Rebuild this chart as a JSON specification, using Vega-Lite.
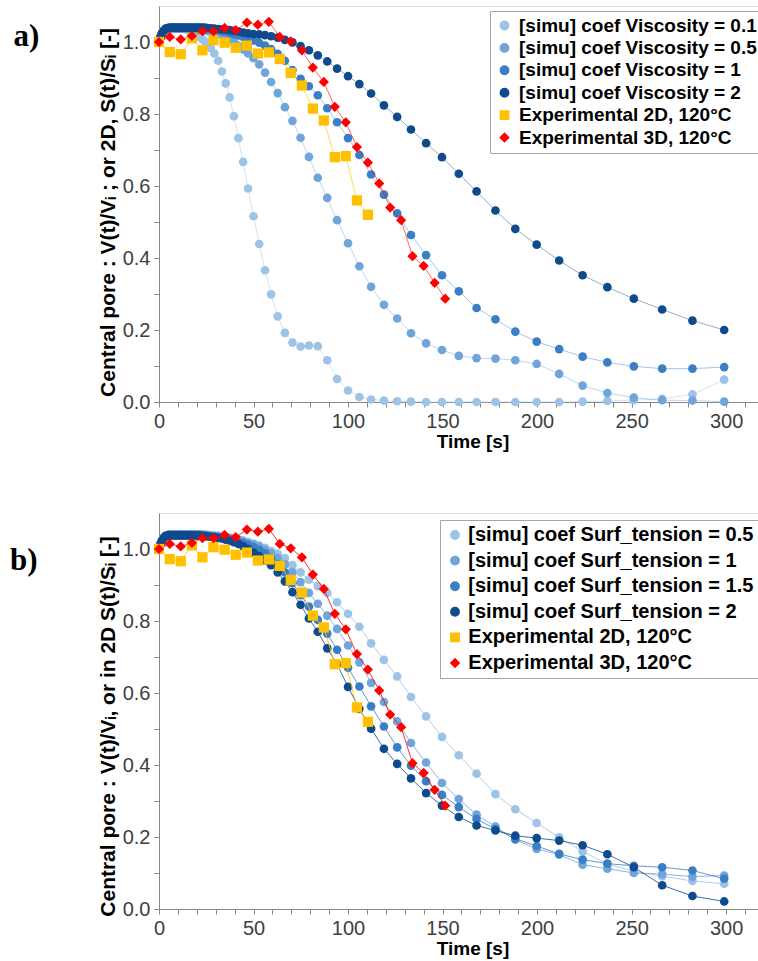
{
  "$schema": "https://vega.github.io/schema/vega-lite/v6.json",
  "background": "white",
  "padding": {"left": 9, "top": 5, "right": 0, "bottom": 0},
  "autosize": {"type": "pad"},
  "spacing": 60,
  "config": {
    "view": {"stroke": "#d9d9d9"},
    "axis": {"labelFont": "Liberation Sans", "labelFontSize": 20, "labelColor": "#404040", "titleFont": "Liberation Sans", "titleFontSize": 21, "titleFontWeight": "bold", "titleColor": "black", "domainColor": "#868686", "tickColor": "#868686", "tickSize": 5, "grid": false, "labelOverlap": false, "labelFlush": false},
    "legend": {"labelFont": "Liberation Sans", "labelFontWeight": "bold", "labelColor": "black", "strokeColor": "#a6a6a6", "fillColor": "white", "padding": 5, "symbolSize": 70, "symbolOpacity": 1, "labelLimit": 400}
  },
  "resolve": {"scale": {"color": "independent", "shape": "independent", "x": "independent", "y": "independent"}},
  "datasets": {
    "simu": [
      {"t": 0, "v01": 1.0, "v05": 1.0, "v1": 1.0, "v2": 1.0, "s05": 1.0, "s1": 1.0, "s15": 1.0, "s2": 1.0},
      {"t": 0.7, "v01": 1.012, "v05": 1.012, "v1": 1.013, "v2": 1.013, "s05": 1.013, "s1": 1.013, "s15": 1.013, "s2": 1.012},
      {"t": 1.5, "v01": 1.022, "v05": 1.022, "v1": 1.023, "v2": 1.024, "s05": 1.024, "s1": 1.024, "s15": 1.023, "s2": 1.022},
      {"t": 2.5, "v01": 1.03, "v05": 1.03, "v1": 1.031, "v2": 1.032, "s05": 1.032, "s1": 1.032, "s15": 1.031, "s2": 1.03},
      {"t": 3.5, "v01": 1.034, "v05": 1.035, "v1": 1.036, "v2": 1.037, "s05": 1.037, "s1": 1.037, "s15": 1.036, "s2": 1.035},
      {"t": 4.5, "v01": 1.036, "v05": 1.037, "v1": 1.038, "v2": 1.039, "s05": 1.039, "s1": 1.039, "s15": 1.038, "s2": 1.037},
      {"t": 5.5, "v01": 1.037, "v05": 1.038, "v1": 1.039, "v2": 1.04, "s05": 1.04, "s1": 1.04, "s15": 1.039, "s2": 1.038},
      {"t": 6.5, "v01": 1.037, "v05": 1.038, "v1": 1.039, "v2": 1.04, "s05": 1.04, "s1": 1.04, "s15": 1.039, "s2": 1.038},
      {"t": 7.5, "v01": 1.037, "v05": 1.038, "v1": 1.039, "v2": 1.04, "s05": 1.04, "s1": 1.04, "s15": 1.039, "s2": 1.038},
      {"t": 8.5, "v01": 1.037, "v05": 1.038, "v1": 1.039, "v2": 1.04, "s05": 1.04, "s1": 1.04, "s15": 1.039, "s2": 1.038},
      {"t": 9.5, "v01": 1.037, "v05": 1.038, "v1": 1.039, "v2": 1.04, "s05": 1.04, "s1": 1.04, "s15": 1.039, "s2": 1.038},
      {"t": 10.5, "v01": 1.037, "v05": 1.038, "v1": 1.039, "v2": 1.04, "s05": 1.04, "s1": 1.04, "s15": 1.039, "s2": 1.038},
      {"t": 11.5, "v01": 1.037, "v05": 1.038, "v1": 1.039, "v2": 1.04, "s05": 1.04, "s1": 1.04, "s15": 1.039, "s2": 1.038},
      {"t": 12.5, "v01": 1.037, "v05": 1.038, "v1": 1.039, "v2": 1.04, "s05": 1.04, "s1": 1.04, "s15": 1.039, "s2": 1.038},
      {"t": 13.6, "v01": 1.036, "v05": 1.038, "v1": 1.039, "v2": 1.04, "s05": 1.04, "s1": 1.04, "s15": 1.039, "s2": 1.038},
      {"t": 14.7, "v01": 1.035, "v05": 1.038, "v1": 1.039, "v2": 1.04, "s05": 1.04, "s1": 1.04, "s15": 1.039, "s2": 1.038},
      {"t": 15.8, "v01": 1.033, "v05": 1.038, "v1": 1.039, "v2": 1.04, "s05": 1.04, "s1": 1.04, "s15": 1.039, "s2": 1.038},
      {"t": 16.9, "v01": 1.03, "v05": 1.038, "v1": 1.039, "v2": 1.04, "s05": 1.04, "s1": 1.04, "s15": 1.039, "s2": 1.038},
      {"t": 18, "v01": 1.027, "v05": 1.038, "v1": 1.039, "v2": 1.04, "s05": 1.04, "s1": 1.04, "s15": 1.039, "s2": 1.038},
      {"t": 19.2, "v01": 1.023, "v05": 1.037, "v1": 1.039, "v2": 1.04, "s05": 1.04, "s1": 1.04, "s15": 1.039, "s2": 1.038},
      {"t": 20.4, "v01": 1.019, "v05": 1.036, "v1": 1.039, "v2": 1.04, "s05": 1.04, "s1": 1.04, "s15": 1.039, "s2": 1.037},
      {"t": 21.6, "v01": 1.014, "v05": 1.035, "v1": 1.039, "v2": 1.04, "s05": 1.04, "s1": 1.04, "s15": 1.039, "s2": 1.037},
      {"t": 22.9, "v01": 1.008, "v05": 1.034, "v1": 1.039, "v2": 1.04, "s05": 1.04, "s1": 1.04, "s15": 1.038, "s2": 1.036},
      {"t": 24.2, "v01": 1.002, "v05": 1.033, "v1": 1.038, "v2": 1.04, "s05": 1.04, "s1": 1.039, "s15": 1.037, "s2": 1.036},
      {"t": 25.5, "v01": 0.995, "v05": 1.031, "v1": 1.037, "v2": 1.039, "s05": 1.04, "s1": 1.038, "s15": 1.036, "s2": 1.035},
      {"t": 27.4, "v01": 0.983, "v05": 1.029, "v1": 1.036, "v2": 1.038, "s05": 1.039, "s1": 1.037, "s15": 1.035, "s2": 1.034},
      {"t": 29.3, "v01": 0.968, "v05": 1.026, "v1": 1.034, "v2": 1.037, "s05": 1.038, "s1": 1.036, "s15": 1.034, "s2": 1.033},
      {"t": 31.3, "v01": 0.948, "v05": 1.023, "v1": 1.032, "v2": 1.036, "s05": 1.037, "s1": 1.035, "s15": 1.032, "s2": 1.031},
      {"t": 33.3, "v01": 0.918, "v05": 1.019, "v1": 1.03, "v2": 1.035, "s05": 1.036, "s1": 1.033, "s15": 1.03, "s2": 1.029},
      {"t": 35.3, "v01": 0.885, "v05": 1.014, "v1": 1.028, "v2": 1.034, "s05": 1.034, "s1": 1.031, "s15": 1.028, "s2": 1.026},
      {"t": 37.4, "v01": 0.846, "v05": 1.008, "v1": 1.025, "v2": 1.033, "s05": 1.032, "s1": 1.029, "s15": 1.026, "s2": 1.023},
      {"t": 39.6, "v01": 0.794, "v05": 1.0, "v1": 1.022, "v2": 1.031, "s05": 1.03, "s1": 1.026, "s15": 1.024, "s2": 1.019},
      {"t": 42, "v01": 0.733, "v05": 0.99, "v1": 1.018, "v2": 1.029, "s05": 1.027, "s1": 1.023, "s15": 1.02, "s2": 1.014},
      {"t": 44.5, "v01": 0.667, "v05": 0.979, "v1": 1.014, "v2": 1.026, "s05": 1.024, "s1": 1.02, "s15": 1.017, "s2": 1.008},
      {"t": 47.1, "v01": 0.593, "v05": 0.968, "v1": 1.009, "v2": 1.024, "s05": 1.02, "s1": 1.016, "s15": 1.012, "s2": 1.0},
      {"t": 50, "v01": 0.516, "v05": 0.955, "v1": 1.004, "v2": 1.022, "s05": 1.015, "s1": 1.012, "s15": 1.005, "s2": 0.99},
      {"t": 53, "v01": 0.439, "v05": 0.938, "v1": 0.998, "v2": 1.021, "s05": 1.01, "s1": 1.006, "s15": 0.998, "s2": 0.98},
      {"t": 56.1, "v01": 0.366, "v05": 0.915, "v1": 0.99, "v2": 1.019, "s05": 1.003, "s1": 0.998, "s15": 0.988, "s2": 0.968},
      {"t": 59.3, "v01": 0.299, "v05": 0.889, "v1": 0.98, "v2": 1.016, "s05": 0.995, "s1": 0.988, "s15": 0.975, "s2": 0.955},
      {"t": 62.8, "v01": 0.238, "v05": 0.858, "v1": 0.967, "v2": 1.012, "s05": 0.987, "s1": 0.975, "s15": 0.958, "s2": 0.935},
      {"t": 66.6, "v01": 0.192, "v05": 0.819, "v1": 0.948, "v2": 1.006, "s05": 0.975, "s1": 0.958, "s15": 0.935, "s2": 0.91},
      {"t": 70.6, "v01": 0.165, "v05": 0.781, "v1": 0.922, "v2": 0.999, "s05": 0.955, "s1": 0.935, "s15": 0.905, "s2": 0.88},
      {"t": 74.9, "v01": 0.154, "v05": 0.734, "v1": 0.898, "v2": 0.989, "s05": 0.935, "s1": 0.908, "s15": 0.872, "s2": 0.845},
      {"t": 79.3, "v01": 0.157, "v05": 0.681, "v1": 0.877, "v2": 0.977, "s05": 0.915, "s1": 0.878, "s15": 0.84, "s2": 0.807},
      {"t": 84, "v01": 0.155, "v05": 0.623, "v1": 0.852, "v2": 0.963, "s05": 0.897, "s1": 0.848, "s15": 0.803, "s2": 0.77},
      {"t": 89, "v01": 0.116, "v05": 0.567, "v1": 0.816, "v2": 0.946, "s05": 0.878, "s1": 0.815, "s15": 0.765, "s2": 0.724},
      {"t": 94.2, "v01": 0.064, "v05": 0.505, "v1": 0.777, "v2": 0.926, "s05": 0.852, "s1": 0.778, "s15": 0.72, "s2": 0.68},
      {"t": 100, "v01": 0.032, "v05": 0.441, "v1": 0.733, "v2": 0.905, "s05": 0.82, "s1": 0.732, "s15": 0.67, "s2": 0.617},
      {"t": 106, "v01": 0.014, "v05": 0.377, "v1": 0.686, "v2": 0.883, "s05": 0.784, "s1": 0.685, "s15": 0.618, "s2": 0.556},
      {"t": 112.2, "v01": 0.007, "v05": 0.32, "v1": 0.632, "v2": 0.857, "s05": 0.738, "s1": 0.628, "s15": 0.563, "s2": 0.501},
      {"t": 119, "v01": 0.004, "v05": 0.27, "v1": 0.576, "v2": 0.824, "s05": 0.692, "s1": 0.575, "s15": 0.507, "s2": 0.445},
      {"t": 126, "v01": 0.002, "v05": 0.232, "v1": 0.524, "v2": 0.792, "s05": 0.646, "s1": 0.521, "s15": 0.449, "s2": 0.403},
      {"t": 133.3, "v01": 0.001, "v05": 0.191, "v1": 0.464, "v2": 0.757, "s05": 0.589, "s1": 0.461, "s15": 0.398, "s2": 0.363},
      {"t": 141.3, "v01": 0, "v05": 0.163, "v1": 0.408, "v2": 0.719, "s05": 0.535, "s1": 0.407, "s15": 0.355, "s2": 0.322},
      {"t": 149.7, "v01": 0, "v05": 0.1445, "v1": 0.352, "v2": 0.68, "s05": 0.478, "s1": 0.35, "s15": 0.317, "s2": 0.287},
      {"t": 158.6, "v01": 0, "v05": 0.128, "v1": 0.3075, "v2": 0.634, "s05": 0.427, "s1": 0.3056, "s15": 0.283, "s2": 0.2556},
      {"t": 168, "v01": 0, "v05": 0.122, "v1": 0.261, "v2": 0.585, "s05": 0.376, "s1": 0.262, "s15": 0.25, "s2": 0.232},
      {"t": 178, "v01": 0, "v05": 0.1205, "v1": 0.2297, "v2": 0.532, "s05": 0.319, "s1": 0.229, "s15": 0.222, "s2": 0.218},
      {"t": 188.5, "v01": 0, "v05": 0.116, "v1": 0.1955, "v2": 0.481, "s05": 0.277, "s1": 0.1925, "s15": 0.195, "s2": 0.2036},
      {"t": 199.8, "v01": 0, "v05": 0.1057, "v1": 0.1677, "v2": 0.437, "s05": 0.239, "s1": 0.1667, "s15": 0.175, "s2": 0.197},
      {"t": 211.7, "v01": 0, "v05": 0.078, "v1": 0.147, "v2": 0.393, "s05": 0.199, "s1": 0.151, "s15": 0.153, "s2": 0.19},
      {"t": 224.1, "v01": 0.001, "v05": 0.0455, "v1": 0.126, "v2": 0.352, "s05": 0.16, "s1": 0.123, "s15": 0.137, "s2": 0.177},
      {"t": 237.2, "v01": 0.003, "v05": 0.025, "v1": 0.11, "v2": 0.319, "s05": 0.125, "s1": 0.112, "s15": 0.126, "s2": 0.152},
      {"t": 251.2, "v01": 0.005, "v05": 0.012, "v1": 0.099, "v2": 0.287, "s05": 0.105, "s1": 0.1, "s15": 0.12, "s2": 0.116},
      {"t": 266.2, "v01": 0.009, "v05": 0.005, "v1": 0.0927, "v2": 0.257, "s05": 0.091, "s1": 0.097, "s15": 0.116, "s2": 0.066},
      {"t": 282.2, "v01": 0.021, "v05": 0.004, "v1": 0.0927, "v2": 0.226, "s05": 0.078, "s1": 0.09, "s15": 0.107, "s2": 0.036},
      {"t": 299, "v01": 0.062, "v05": 0.001, "v1": 0.097, "v2": 0.2, "s05": 0.07, "s1": 0.093, "s15": 0.084, "s2": 0.021}
    ],
    "exp": [
      {"t": 0, "e2": 1.0, "e3": 1.0},
      {"t": 5.7, "e2": 0.972, "e3": 1.014},
      {"t": 11.5, "e2": 0.966, "e3": 1.007},
      {"t": 17.4, "e2": 1.01, "e3": 1.017},
      {"t": 23, "e2": 0.977, "e3": 1.03},
      {"t": 28.8, "e2": 1.005, "e3": 1.03},
      {"t": 34.7, "e2": 0.998, "e3": 1.039},
      {"t": 40.6, "e2": 0.984, "e3": 1.033},
      {"t": 46.5, "e2": 0.99, "e3": 1.054},
      {"t": 52.3, "e2": 0.968, "e3": 1.048},
      {"t": 58.1, "e2": 0.971, "e3": 1.056},
      {"t": 63.9, "e2": 0.953, "e3": 1.014},
      {"t": 69.7, "e2": 0.914, "e3": 1.002},
      {"t": 75.6, "e2": 0.879, "e3": 0.977},
      {"t": 81.4, "e2": 0.815, "e3": 0.929},
      {"t": 87.2, "e2": 0.782, "e3": 0.889},
      {"t": 93, "e2": 0.68, "e3": 0.82},
      {"t": 98.8, "e2": 0.683, "e3": 0.777},
      {"t": 104.7, "e2": 0.56, "e3": 0.708},
      {"t": 110.5, "e2": 0.52, "e3": 0.665},
      {"t": 116.5, "e3": 0.607},
      {"t": 122.3, "e3": 0.54},
      {"t": 128.1, "e3": 0.505},
      {"t": 134.1, "e3": 0.405},
      {"t": 140, "e3": 0.378},
      {"t": 145.8, "e3": 0.331},
      {"t": 151.4, "e3": 0.287}
    ]
  },
  "vconcat": [
    {
      "width": 603,
      "height": 396,
      "title": {"text": "a)", "orient": "left", "anchor": "end", "angle": 0, "align": "right", "baseline": "top", "font": "Liberation Serif", "fontSize": 31, "fontWeight": "bold", "color": "black", "offset": 32, "dy": 16},
      "encoding": {
        "x": {"field": "t", "type": "quantitative", "scale": {"domain": [0, 319], "nice": false}, "axis": {"title": "Time [s]", "values": [0,10,20,30,40,50,60,70,80,90,100,110,120,130,140,150,160,170,180,190,200,210,220,230,240,250,260,270,280,290,300,310], "labelExpr": "datum.value % 50 == 0 ? datum.label : ''", "labelPadding": 4, "titleX": 313.5, "titleY": 30, "titleFontSize": 19, "titleBaseline": "top", "titleAlign": "center", "titleAnchor": null}},
        "y": {"field": "v", "type": "quantitative", "scale": {"domain": [0, 1.1], "nice": false}, "axis": {"title": "Central pore : V(t)/Vᵢ ;   or 2D, S(t)/Sᵢ   [-]", "values": [0,0.1,0.2,0.3,0.4,0.5,0.6,0.7,0.8,0.9,1.0], "labelExpr": "round(datum.value*10) % 2 == 0 ? format(datum.value, '.1f') : ''", "labelPadding": 4, "titlePadding": 4, "titleY": 206}}
      },
      "layer": [
        {
          "data": {"name": "simu"},
          "transform": [{"fold": ["v01", "v05", "v1", "v2"], "as": ["series", "v"]}],
          "mark": {"type": "line", "strokeWidth": 1, "opacity": 0.45},
          "encoding": {"color": {"field": "series", "type": "nominal", "scale": {"domain": ["v01", "v05", "v1", "v2", "e2", "e3"], "range": ["#9DC3E6", "#6FA5DB", "#3A7FC5", "#0F4A8C", "#FFC000", "#FF0000"]}}}
        },
        {
          "data": {"name": "simu"},
          "transform": [{"fold": ["v01", "v05", "v1", "v2"], "as": ["series", "v"]}],
          "mark": {"type": "point", "filled": true, "opacity": 1, "size": 75},
          "encoding": {
            "color": {"field": "series", "type": "nominal", "scale": {"domain": ["v01", "v05", "v1", "v2", "e2", "e3"], "range": ["#9DC3E6", "#6FA5DB", "#3A7FC5", "#0F4A8C", "#FFC000", "#FF0000"]}, "legend": {"orient": "none", "legendX": 331, "legendY": 5, "title": null, "labelFontSize": 19, "rowPadding": 2.4, "labelOffset": 5, "labelExpr": "datum.label == 'v01' ? '[simu] coef Viscosity = 0.1' : datum.label == 'v05' ? '[simu] coef Viscosity = 0.5' : datum.label == 'v1' ? '[simu] coef Viscosity = 1' : datum.label == 'v2' ? '[simu] coef Viscosity = 2' : datum.label == 'e2' ? 'Experimental 2D, 120°C' : 'Experimental 3D, 120°C'"}},
            "shape": {"field": "series", "type": "nominal", "scale": {"domain": ["v01", "v05", "v1", "v2", "e2", "e3"], "range": ["circle", "circle", "circle", "circle", "square", "diamond"]}, "legend": {"orient": "none", "legendX": 331, "legendY": 5, "title": null, "labelFontSize": 19, "rowPadding": 2.4, "labelOffset": 5, "labelExpr": "datum.label == 'v01' ? '[simu] coef Viscosity = 0.1' : datum.label == 'v05' ? '[simu] coef Viscosity = 0.5' : datum.label == 'v1' ? '[simu] coef Viscosity = 1' : datum.label == 'v2' ? '[simu] coef Viscosity = 2' : datum.label == 'e2' ? 'Experimental 2D, 120°C' : 'Experimental 3D, 120°C'"}},
            "order": {"field": "series", "type": "nominal"}
          }
        },
        {
          "data": {"name": "exp"},
          "transform": [{"fold": ["e2", "e3"], "as": ["series", "v"]}, {"filter": "isValid(datum.v)"}],
          "mark": {"type": "line", "strokeWidth": 1, "opacity": 0.6},
          "encoding": {"color": {"field": "series", "type": "nominal"}}
        },
        {
          "data": {"name": "exp"},
          "transform": [{"fold": ["e2", "e3"], "as": ["series", "v"]}, {"filter": "isValid(datum.v)"}],
          "mark": {"type": "point", "filled": true, "opacity": 1, "size": 105},
          "encoding": {
            "color": {"field": "series", "type": "nominal"},
            "shape": {"field": "series", "type": "nominal"},
            "order": {"field": "series", "type": "nominal"}
          }
        }
      ]
    },
    {
      "width": 603,
      "height": 396,
      "title": {"text": "b)", "orient": "left", "anchor": "end", "angle": 0, "align": "right", "baseline": "top", "font": "Liberation Serif", "fontSize": 31, "fontWeight": "bold", "color": "black", "offset": 32, "dy": 33},
      "encoding": {
        "x": {"field": "t", "type": "quantitative", "scale": {"domain": [0, 319], "nice": false}, "axis": {"title": "Time [s]", "values": [0,10,20,30,40,50,60,70,80,90,100,110,120,130,140,150,160,170,180,190,200,210,220,230,240,250,260,270,280,290,300,310], "labelExpr": "datum.value % 50 == 0 ? datum.label : ''", "labelPadding": 4, "titleX": 313.5, "titleY": 30, "titleFontSize": 19, "titleBaseline": "top", "titleAlign": "center", "titleAnchor": null}},
        "y": {"field": "v", "type": "quantitative", "scale": {"domain": [0, 1.1], "nice": false}, "axis": {"title": "Central pore : V(t)/Vᵢ, or in 2D S(t)/Sᵢ   [-]", "values": [0,0.1,0.2,0.3,0.4,0.5,0.6,0.7,0.8,0.9,1.0], "labelExpr": "round(datum.value*10) % 2 == 0 ? format(datum.value, '.1f') : ''", "labelPadding": 4, "titlePadding": 4, "titleY": 213}}
      },
      "layer": [
        {
          "data": {"name": "simu"},
          "transform": [{"fold": ["s05", "s1", "s15", "s2"], "as": ["series", "v"]}],
          "mark": {"type": "line", "strokeWidth": 1, "opacity": 0.8},
          "encoding": {"color": {"field": "series", "type": "nominal", "scale": {"domain": ["s05", "s1", "s15", "s2", "e2", "e3"], "range": ["#9DC3E6", "#6FA5DB", "#3A7FC5", "#0F4A8C", "#FFC000", "#FF0000"]}}}
        },
        {
          "data": {"name": "simu"},
          "transform": [{"fold": ["s05", "s1", "s15", "s2"], "as": ["series", "v"]}],
          "mark": {"type": "point", "filled": true, "opacity": 1, "size": 75},
          "encoding": {
            "color": {"field": "series", "type": "nominal", "scale": {"domain": ["s05", "s1", "s15", "s2", "e2", "e3"], "range": ["#9DC3E6", "#6FA5DB", "#3A7FC5", "#0F4A8C", "#FFC000", "#FF0000"]}, "legend": {"orient": "none", "legendX": 281, "legendY": 7, "title": null, "labelFontSize": 20, "rowPadding": 5.6, "labelOffset": 3.3, "labelExpr": "datum.label == 's05' ? '[simu] coef Surf_tension = 0.5' : datum.label == 's1' ? '[simu] coef Surf_tension = 1' : datum.label == 's15' ? '[simu] coef Surf_tension = 1.5' : datum.label == 's2' ? '[simu] coef Surf_tension = 2' : datum.label == 'e2' ? 'Experimental 2D, 120°C' : 'Experimental 3D, 120°C'"}},
            "shape": {"field": "series", "type": "nominal", "scale": {"domain": ["s05", "s1", "s15", "s2", "e2", "e3"], "range": ["circle", "circle", "circle", "circle", "square", "diamond"]}, "legend": {"orient": "none", "legendX": 281, "legendY": 7, "title": null, "labelFontSize": 20, "rowPadding": 5.6, "labelOffset": 3.3, "labelExpr": "datum.label == 's05' ? '[simu] coef Surf_tension = 0.5' : datum.label == 's1' ? '[simu] coef Surf_tension = 1' : datum.label == 's15' ? '[simu] coef Surf_tension = 1.5' : datum.label == 's2' ? '[simu] coef Surf_tension = 2' : datum.label == 'e2' ? 'Experimental 2D, 120°C' : 'Experimental 3D, 120°C'"}},
            "order": {"field": "series", "type": "nominal"}
          }
        },
        {
          "data": {"name": "exp"},
          "transform": [{"fold": ["e2", "e3"], "as": ["series", "v"]}, {"filter": "isValid(datum.v)"}],
          "mark": {"type": "line", "strokeWidth": 1, "opacity": 0.8},
          "encoding": {"color": {"field": "series", "type": "nominal"}}
        },
        {
          "data": {"name": "exp"},
          "transform": [{"fold": ["e2", "e3"], "as": ["series", "v"]}, {"filter": "isValid(datum.v)"}],
          "mark": {"type": "point", "filled": true, "opacity": 1, "size": 105},
          "encoding": {
            "color": {"field": "series", "type": "nominal"},
            "shape": {"field": "series", "type": "nominal"},
            "order": {"field": "series", "type": "nominal"}
          }
        }
      ]
    }
  ]
}
